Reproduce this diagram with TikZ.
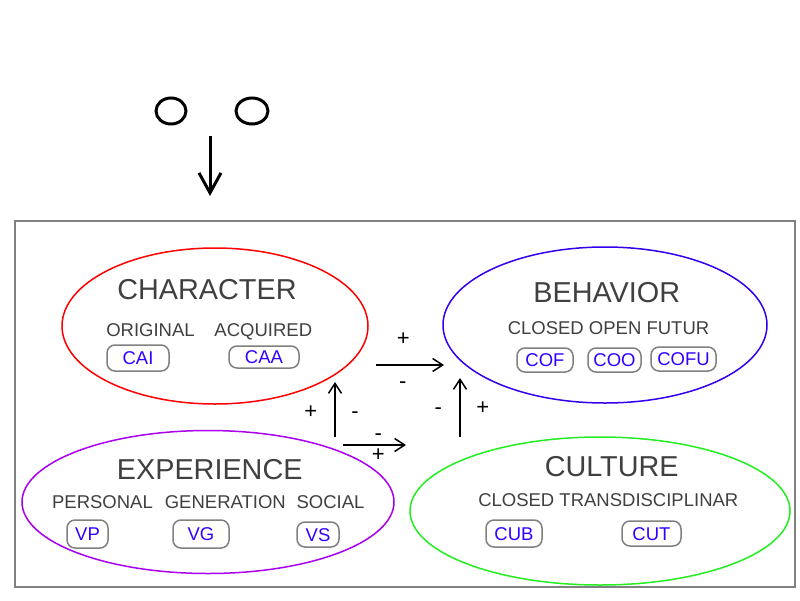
\documentclass[tikz,border=0pt]{standalone}
\usepackage{fontspec}
\setmainfont{Liberation Sans}
\usetikzlibrary{shapes.geometric,arrows.meta}
\definecolor{txt}{HTML}{404040}
\definecolor{lab}{HTML}{3300FF}
\definecolor{bord}{HTML}{808080}
\definecolor{cred}{HTML}{FF0000}
\definecolor{cblue}{HTML}{3300EE}
\definecolor{cpurp}{HTML}{AA00EE}
\definecolor{cgreen}{HTML}{22EE22}
\tikzset{
  blob/.style={ellipse, draw, line width=1.5pt, inner sep=0pt},
  title/.style={text=txt, font=\fontsize{28.8}{32}\selectfont, inner sep=0pt, text height=20.6pt, text depth=0pt},
  sub/.style={text=txt, font=\fontsize{18.5}{21}\selectfont, inner sep=0pt, text height=13.25pt, text depth=0pt},
  tag/.style={draw=bord, line width=1.5pt, rounded corners=8pt, text=lab,
     font=\fontsize{18.5}{21}\selectfont, inner sep=0pt, text height=13.25pt, text depth=0pt},
  sign/.style={font=\fontsize{22}{24}\selectfont, inner sep=0pt},
  flow/.style={line width=1.5pt, -{Straight Barb[length=10pt,width=13pt,line width=1.5pt]}},
  eye/.style={ellipse, draw, line width=3pt, inner sep=0pt},
}
\begin{document}
\begin{tikzpicture}[x=1pt,y=-1pt]
\useasboundingbox (0,0) rectangle (800,600);
\fill[white] (0,0) rectangle (800,600);
% eyes and arrow
\node[eye, minimum width=30pt, minimum height=26pt] (eyeL) at (171,111) {};
\node[eye, minimum width=32pt, minimum height=26pt] (eyeR) at (252,111) {};
\coordinate (nose1) at (210,136);
\coordinate (nose2) at (210,196);
\draw[line width=3pt, -{Straight Barb[length=20pt,width=22pt,line width=3pt]}] (nose1) -- (nose2);
% frame
\node[draw=bord, line width=1.5pt, minimum width=780pt, minimum height=366pt, inner sep=0pt] (frame) at (405,404) {};
% ellipses
\node[blob, draw=cred, minimum width=306pt, minimum height=156pt] (char) at (215,326) {};
\node[blob, draw=cblue, minimum width=324pt, minimum height=156pt] (beh) at (605,325) {};
\node[blob, draw=cpurp, minimum width=372pt, minimum height=143pt] (exp) at (208,502) {};
\node[blob, draw=cgreen, minimum width=380pt, minimum height=148pt] (cul) at (600,511) {};
% character
\node[title] (charT) at (207,289) {CHARACTER};
\node[sub] (orig) at (150.5,330) {ORIGINAL};
\node[sub] (acq) at (263.3,330) {ACQUIRED};
\node[tag, minimum width=62pt, minimum height=26pt] (cai) at (138,358) {CAI};
\node[tag, minimum width=70pt, minimum height=22pt] (caa) at (264,357) {CAA};
% behavior
\node[title] (behT) at (606.7,291.7) {BEHAVIOR};
\node[sub] (behS) at (608.5,327.5) {CLOSED OPEN FUTUR};
\node[tag, minimum width=56pt, minimum height=24pt] (cof) at (545,360) {COF};
\node[tag, minimum width=53pt, minimum height=24pt] (coo) at (614.5,360) {COO};
\node[tag, minimum width=65pt, minimum height=24pt] (cofu) at (683.5,359) {COFU};
% experience
\node[title] (expT) at (209.7,468.8) {EXPERIENCE};
\node[sub] (pers) at (102.5,501.7) {PERSONAL};
\node[sub] (gen) at (225.3,501.7) {GENERATION};
\node[sub] (soc) at (330.5,501.7) {SOCIAL};
\node[tag, minimum width=41pt, minimum height=28pt] (vp) at (87.5,534) {VP};
\node[tag, minimum width=56pt, minimum height=28pt] (vg) at (201,534) {VG};
\node[tag, minimum width=42pt, minimum height=25pt] (vs) at (318,534.5) {VS};
% culture
\node[title] (culT) at (611.7,466.3) {CULTURE};
\node[sub] (culS) at (608.3,499.5) {CLOSED TRANSDISCIPLINAR};
\node[tag, minimum width=56pt, minimum height=27pt] (cub) at (514,533.5) {CUB};
\node[tag, minimum width=59pt, minimum height=25pt] (cut) at (651.5,533.5) {CUT};
% influence arrows
\coordinate (a1s) at (376,365); \coordinate (a1e) at (444,365);
\coordinate (a2s) at (335,437); \coordinate (a2e) at (335,382);
\coordinate (a3s) at (343,445); \coordinate (a3e) at (406,445);
\coordinate (a4s) at (460,437); \coordinate (a4e) at (460,378);
\draw[flow] (a1s) -- (a1e);
\draw[flow] (a2s) -- (a2e);
\draw[flow] (a3s) -- (a3e);
\draw[flow] (a4s) -- (a4e);
\node[sign] (p1) at (403.3,339.3) {+};
\node[sign] (m1) at (402.7,385.3) {-};
\node[sign] (p2) at (310.7,411.7) {+};
\node[sign] (m2) at (355,415.3) {-};
\node[sign] (m3) at (378.3,437.6) {-};
\node[sign] (p3) at (378.3,455) {+};
\node[sign] (m4) at (438.3,411.6) {-};
\node[sign] (p4) at (482.7,408.3) {+};
\end{tikzpicture}
\end{document}
